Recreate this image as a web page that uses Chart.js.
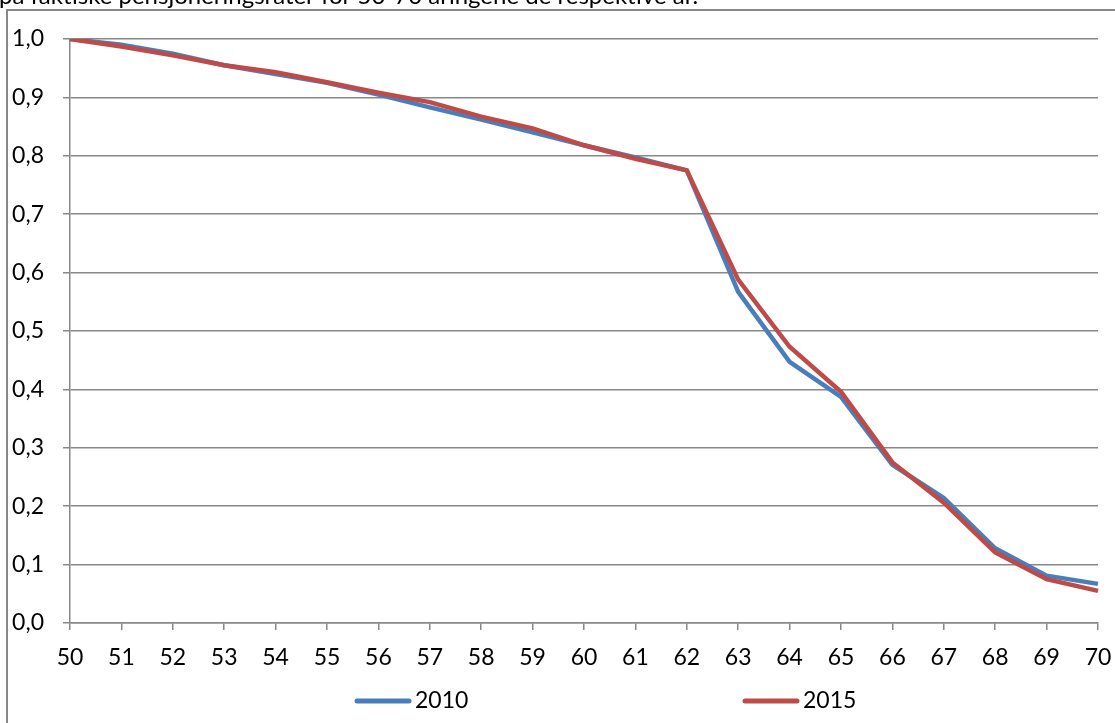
<!DOCTYPE html>
<html lang="no">
<head>
<meta charset="utf-8">
<title>Andel ikke pensjonert 50-70 år</title>
<script src="https://cdn.jsdelivr.net/npm/chart.js@4.4.1/dist/chart.umd.min.js"></script>
<style>
    html, body { margin: 0; padding: 0; background: #fff; }
    canvas { display: block; }
</style>
</head>
<body>
<canvas id="pensjon-diagram" width="1115" height="723"></canvas>
<script>
// data lest av figuren
const ages = ['50', '51', '52', '53', '54', '55', '56', '57', '58', '59', '60',
              '61', '62', '63', '64', '65', '66', '67', '68', '69', '70'];
const share2010 = [1.000, 0.990, 0.975, 0.955, 0.940, 0.925, 0.905, 0.883, 0.862, 0.840, 0.818,
                   0.797, 0.775, 0.567, 0.447, 0.387, 0.271, 0.214, 0.128, 0.081, 0.067];
const share2015 = [1.000, 0.987, 0.972, 0.955, 0.943, 0.926, 0.908, 0.892, 0.867, 0.847, 0.818,
                   0.795, 0.775, 0.588, 0.473, 0.396, 0.275, 0.206, 0.121, 0.075, 0.055];
const seriesNames = ['2010', '2015'];
const seriesColors = ['#4A7EBB', '#BE4B48'];
const titleText = 'på faktiske pensjoneringsrater for 50-70 åringene de respektive år.';

const FONT = 'Lato, "Open Sans", sans-serif';
const gridColor = '#888888';
const legendStartX = [355, 743]; // plassering av legend-elementene
const legendY = 701;

// ramme rundt diagrammet + avkuttet tittel over
const framePlugin = {
    id: 'framePlugin',
    beforeDraw(chart) {
        const ctx = chart.ctx;
        ctx.save();
        ctx.fillStyle = '#fff';
        ctx.fillRect(0, 0, chart.width, chart.height);
        ctx.strokeStyle = gridColor;
        ctx.lineWidth = 2;
        ctx.beginPath();
        ctx.moveTo(7, chart.height);
        ctx.lineTo(7, 10);
        ctx.lineTo(chart.width, 10);
        ctx.stroke();
        ctx.fillStyle = '#000';
        ctx.font = '24px ' + FONT;
        ctx.textBaseline = 'alphabetic';
        ctx.textAlign = 'left';
        ctx.fillText(titleText, -1, 4);
        ctx.restore();
    }
};

// legend under x-aksen, som i Excel
const legendPlugin = {
    id: 'legendPlugin',
    afterDraw(chart) {
        const ctx = chart.ctx;
        ctx.save();
        chart.data.datasets.forEach((ds, i) => {
            const x = legendStartX[i];
            ctx.strokeStyle = ds.borderColor;
            ctx.lineWidth = 5;
            ctx.lineCap = 'round';
            ctx.beginPath();
            ctx.moveTo(x + 2, legendY);
            ctx.lineTo(x + 54, legendY);
            ctx.stroke();
            ctx.fillStyle = '#000';
            ctx.font = '23px ' + FONT;
            ctx.textBaseline = 'middle';
            ctx.textAlign = 'left';
            ctx.fillText(ds.label, x + 60, legendY);
        });
        ctx.restore();
    }
};

const ctx = document.getElementById('pensjon-diagram').getContext('2d');
new Chart(ctx, {
    type: 'line',
    data: {
        labels: ages,
        datasets: [{
            label: seriesNames[0],
            data: share2010,
            borderColor: seriesColors[0],
            backgroundColor: seriesColors[0],
            borderWidth: 4.5,
            pointRadius: 0,
            tension: 0,
            order: 2
        }, {
            label: seriesNames[1],
            data: share2015,
            borderColor: seriesColors[1],
            backgroundColor: seriesColors[1],
            borderWidth: 4.5,
            pointRadius: 0,
            tension: 0,
            order: 1
        }]
    },
    options: {
        responsive: false,
        animation: false,
        layout: {
            padding: { left: 0, right: 17, top: 39, bottom: 0 }
        },
        plugins: {
            legend: { display: false },
            title: { display: false },
            tooltip: { enabled: false }
        },
        scales: {
            x: {
                offset: false,
                grid: {
                    display: true,
                    drawOnChartArea: false,
                    drawTicks: true,
                    tickLength: 7,
                    color: gridColor,
                    lineWidth: 1.5
                },
                border: { display: true, color: gridColor, width: 1.5 },
                ticks: {
                    color: '#000',
                    font: { family: FONT, size: 23 },
                    padding: 14,
                    maxRotation: 0,
                    autoSkip: false
                },
                afterFit(scale) {
                    scale.height = 100;
                    scale.paddingLeft = 0;
                    scale.paddingRight = 0;
                }
            },
            y: {
                min: 0,
                max: 1,
                grid: {
                    color: gridColor,
                    lineWidth: 1.5,
                    tickLength: 7
                },
                border: { display: true, color: gridColor, width: 1.5 },
                ticks: {
                    stepSize: 0.1,
                    color: '#000',
                    font: { family: FONT, size: 23 },
                    padding: 19,
                    callback: value => value.toFixed(1).replace('.', ',')
                },
                afterFit(scale) {
                    scale.width = 70;
                    scale.paddingTop = 0;
                    scale.paddingBottom = 0;
                }
            }
        }
    },
    plugins: [framePlugin, legendPlugin]
});
</script>
</body>
</html>
